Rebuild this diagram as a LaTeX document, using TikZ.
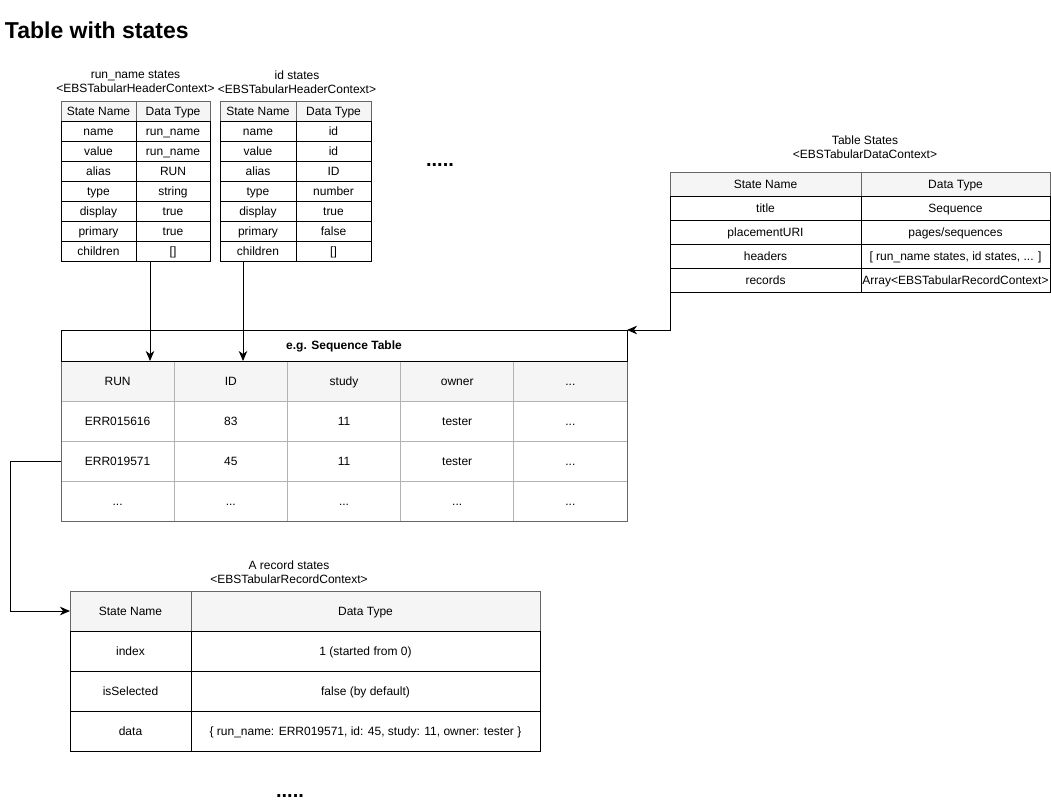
\documentclass[tikz,border=0pt]{standalone}
\usepackage{fontspec}
\setmainfont{Liberation Sans}
\usetikzlibrary{arrows.meta}
\definecolor{hdrfill}{HTML}{F5F5F5}
\definecolor{ltgray}{HTML}{B3B3B3}
\definecolor{dkgray}{HTML}{666666}
\newcommand\tcell[7]{\node[#1, minimum width=#5pt, minimum height=#6pt, anchor=north west] (#2) at (#3,#4) {#7};}
\begin{document}
\begin{tikzpicture}[x=1pt,y=-1pt,
  every node/.style={font=\fontsize{12}{14}\selectfont, inner sep=0pt, outer sep=0pt},
  cellbase/.style={line width=1pt, text height=9.6pt, text depth=1.6pt},
  cellbox/.style={cellbase, draw=black},
  hdrbox/.style={cellbase, draw=dkgray, fill=hdrfill},
  seqbox/.style={cellbase, draw=ltgray},
  seqhdr/.style={cellbase, draw=ltgray, fill=hdrfill},
  lbl/.style={align=center},
  conn/.style={draw=black, line width=1pt, -{Stealth[length=10pt,width=8.5pt,inset=3pt]}},
  dots/.style={font=\fontsize{20}{20}\selectfont\bfseries}
]
\useasboundingbox (0,0) rectangle (1051,804);

% title
\node[anchor=base west, font=\fontsize{23}{26}\selectfont\bfseries] (title) at (5,38.5) {Table with states};

% ---------- run_name states ----------
\node[lbl] (rnlbl) at (135.5,82) {run\_name states\\<EBSTabularHeaderContext>};
\tcell{hdrbox}{rn-h1}{61}{101}{75}{20}{State Name}
\tcell{hdrbox}{rn-h2}{136}{101}{74}{20}{Data Type}
\tcell{cellbox}{rn-a1}{61}{121}{75}{20}{name}
\tcell{cellbox}{rn-a2}{136}{121}{74}{20}{run\_name}
\tcell{cellbox}{rn-b1}{61}{141}{75}{20}{value}
\tcell{cellbox}{rn-b2}{136}{141}{74}{20}{run\_name}
\tcell{cellbox}{rn-c1}{61}{161}{75}{20}{alias}
\tcell{cellbox}{rn-c2}{136}{161}{74}{20}{RUN}
\tcell{cellbox}{rn-d1}{61}{181}{75}{20}{type}
\tcell{cellbox}{rn-d2}{136}{181}{74}{20}{string}
\tcell{cellbox}{rn-e1}{61}{201}{75}{20}{display}
\tcell{cellbox}{rn-e2}{136}{201}{74}{20}{true}
\tcell{cellbox}{rn-f1}{61}{221}{75}{20}{primary}
\tcell{cellbox}{rn-f2}{136}{221}{74}{20}{true}
\tcell{cellbox}{rn-g1}{61}{241}{75}{20}{children}
\tcell{cellbox}{rn-g2}{136}{241}{74}{20}{[]}

% ---------- id states ----------
\node[lbl] (idlbl) at (297,82) {id states\\<EBSTabularHeaderContext>};
\tcell{hdrbox}{id-h1}{220}{101}{76}{20}{State Name}
\tcell{hdrbox}{id-h2}{296}{101}{75}{20}{Data Type}
\tcell{cellbox}{id-a1}{220}{121}{76}{20}{name}
\tcell{cellbox}{id-a2}{296}{121}{75}{20}{id}
\tcell{cellbox}{id-b1}{220}{141}{76}{20}{value}
\tcell{cellbox}{id-b2}{296}{141}{75}{20}{id}
\tcell{cellbox}{id-c1}{220}{161}{76}{20}{alias}
\tcell{cellbox}{id-c2}{296}{161}{75}{20}{ID}
\tcell{cellbox}{id-d1}{220}{181}{76}{20}{type}
\tcell{cellbox}{id-d2}{296}{181}{75}{20}{number}
\tcell{cellbox}{id-e1}{220}{201}{76}{20}{display}
\tcell{cellbox}{id-e2}{296}{201}{75}{20}{true}
\tcell{cellbox}{id-f1}{220}{221}{76}{20}{primary}
\tcell{cellbox}{id-f2}{296}{221}{75}{20}{false}
\tcell{cellbox}{id-g1}{220}{241}{76}{20}{children}
\tcell{cellbox}{id-g2}{296}{241}{75}{20}{[]}

\node[dots] (dots1) at (440,165) {.....};

% ---------- Table States ----------
\node[lbl] (tslbl) at (865,147) {Table States\\<EBSTabularDataContext>};
\tcell{hdrbox}{ts-h1}{670}{172}{191}{24}{State Name}
\tcell{hdrbox}{ts-h2}{861}{172}{189}{24}{Data Type}
\tcell{cellbox}{ts-a1}{670}{196}{191}{24}{title}
\tcell{cellbox}{ts-a2}{861}{196}{189}{24}{Sequence}
\tcell{cellbox}{ts-b1}{670}{220}{191}{24}{placementURI}
\tcell{cellbox}{ts-b2}{861}{220}{189}{24}{pages/sequences}
\tcell{cellbox}{ts-c1}{670}{244}{191}{24}{headers}
\tcell{cellbox}{ts-c2}{861}{244}{189}{24}{[ run\_name states, id states, ... ]}
\tcell{cellbox}{ts-d1}{670}{268}{191}{24}{records}
\tcell{cellbox}{ts-d2}{861}{268}{189}{24}{Array<EBSTabularRecordContext>}

% ---------- Sequence table ----------
\tcell{cellbox}{seq-title}{61}{330}{566}{31}{\bfseries e.g. Sequence Table}
\tcell{seqhdr}{sq-h1}{61}{361}{113.2}{40}{RUN}
\tcell{seqhdr}{sq-h2}{174.2}{361}{113.2}{40}{ID}
\tcell{seqhdr}{sq-h3}{287.4}{361}{113.2}{40}{study}
\tcell{seqhdr}{sq-h4}{400.6}{361}{113.2}{40}{owner}
\tcell{seqhdr}{sq-h5}{513.8}{361}{113.2}{40}{...}
\tcell{seqbox}{sq-a1}{61}{401}{113.2}{40}{ERR015616}
\tcell{seqbox}{sq-a2}{174.2}{401}{113.2}{40}{83}
\tcell{seqbox}{sq-a3}{287.4}{401}{113.2}{40}{11}
\tcell{seqbox}{sq-a4}{400.6}{401}{113.2}{40}{tester}
\tcell{seqbox}{sq-a5}{513.8}{401}{113.2}{40}{...}
\tcell{seqbox}{sq-b1}{61}{441}{113.2}{40}{ERR019571}
\tcell{seqbox}{sq-b2}{174.2}{441}{113.2}{40}{45}
\tcell{seqbox}{sq-b3}{287.4}{441}{113.2}{40}{11}
\tcell{seqbox}{sq-b4}{400.6}{441}{113.2}{40}{tester}
\tcell{seqbox}{sq-b5}{513.8}{441}{113.2}{40}{...}
\tcell{seqbox}{sq-c1}{61}{481}{113.2}{40}{...}
\tcell{seqbox}{sq-c2}{174.2}{481}{113.2}{40}{...}
\tcell{seqbox}{sq-c3}{287.4}{481}{113.2}{40}{...}
\tcell{seqbox}{sq-c4}{400.6}{481}{113.2}{40}{...}
\tcell{seqbox}{sq-c5}{513.8}{481}{113.2}{40}{...}
\draw[dkgray, line width=1pt] (sq-h1.north west) rectangle (sq-c5.south east);
\draw[black, line width=1pt] (seq-title.north west) rectangle (seq-title.south east);

% ---------- Record table ----------
\node[lbl] (reclbl) at (289,572) {A record states\\<EBSTabularRecordContext>};
\tcell{hdrbox}{rc-h1}{70}{591}{121}{40}{State Name}
\tcell{hdrbox}{rc-h2}{191}{591}{349}{40}{Data Type}
\tcell{cellbox}{rc-a1}{70}{631}{121}{40}{index}
\tcell{cellbox}{rc-a2}{191}{631}{349}{40}{1 (started from 0)}
\tcell{cellbox}{rc-b1}{70}{671}{121}{40}{isSelected}
\tcell{cellbox}{rc-b2}{191}{671}{349}{40}{false (by default)}
\tcell{cellbox}{rc-c1}{70}{711}{121}{40}{data}
\tcell{cellbox}{rc-c2}{191}{711}{349}{40}{\{ run\_name: ERR019571, id: 45, study: 11, owner: tester \}}

\node[dots] (dots2) at (290,796) {.....};

% ---------- connectors ----------
\coordinate (rnout) at ([xshift=89pt]rn-g1.south west);
\coordinate (idout) at ([xshift=23pt]id-g1.south west);
\draw[conn] (rnout) -- (rnout |- sq-h1.north);
\draw[conn] (idout) -- (idout |- sq-h1.north);
\draw[conn] (ts-d1.south west) -- (ts-d1.south west |- seq-title.north east) -- (seq-title.north east);
\draw[conn] (sq-b1.west) -- ++(-51,0) |- (rc-h1.west);
\end{tikzpicture}
\end{document}
